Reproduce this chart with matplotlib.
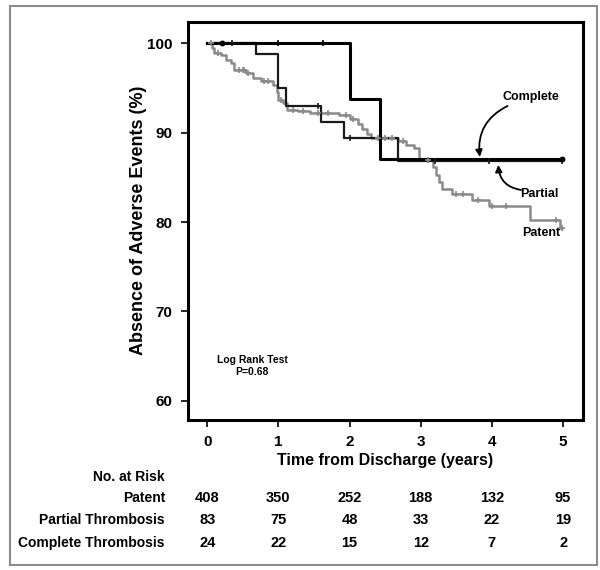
"""Kaplan-Meier style chart: absence of adverse events by thrombosis status"""
import numpy as np
import matplotlib
matplotlib.use("Agg")
import matplotlib.pyplot as plt
from matplotlib.patches import Rectangle
import matplotlib.transforms as mtransforms

plt.rcParams['font.family'] = ['Liberation Sans', 'DejaVu Sans']
plt.rcParams['font.weight'] = 'bold'

# step curves: time of each drop (years) and survival after it (%)
patent_times = [0, 0.07, 0.09, 0.2, 0.26, 0.33, 0.37, 0.54, 0.65, 0.75,
                0.93, 0.98, 1.0, 1.07, 1.12, 1.28, 1.45, 1.85, 2.0, 2.12,
                2.18, 2.25, 2.3, 2.68, 2.8, 2.9, 2.98, 3.17, 3.22, 3.26,
                3.3, 3.44, 3.72, 3.96, 4.54, 4.96]
patent_surv = [100, 99.5, 98.9, 98.7, 98.2, 97.8, 97.0, 96.7, 96.1, 95.8,
               95.4, 94.6, 93.7, 93.3, 92.6, 92.4, 92.2, 92.0, 91.5, 91.0,
               90.4, 89.9, 89.4, 89.1, 88.6, 88.3, 86.9, 86.2, 85.3, 84.5,
               83.7, 83.1, 82.5, 81.8, 80.2, 79.3]
patent_censor = [0.05, 0.15, 0.45, 0.5, 0.52, 0.58, 0.8, 0.85, 1.03, 1.2,
                 1.35, 1.55, 1.7, 1.95, 2.05, 2.4, 2.5, 2.6, 2.75, 3.1,
                 3.5, 3.6, 3.8, 4.0, 4.2, 4.9, 4.98]

partial_times = [0, 0.69, 0.99, 1.1, 1.6, 1.92, 2.68]
partial_surv = [100, 98.8, 95.0, 93.0, 91.2, 89.4, 86.8]
partial_censor = [0.35, 1.55, 2.0, 3.2, 3.96, 4.98]

complete_times = [0, 2.0, 2.43]
complete_surv = [100, 93.8, 87.1]
complete_dots = [0.21, 4.98]
complete_ticks = [1.0, 1.62]

end_time = 4.98

# numbers at risk
risk_times = [0, 1, 2, 3, 4, 5]
risk_patent = [408, 350, 252, 188, 132, 95]
risk_partial = [83, 75, 48, 33, 22, 19]
risk_complete = [24, 22, 15, 12, 7, 2]
risk_labels = ["Patent", "Partial Thrombosis", "Complete Thrombosis"]


def step_value(times, surv, t):
    idx = np.searchsorted(times, t, side='right') - 1
    return np.asarray(surv)[idx]


def draw_curve(ax, times, surv, color, lw):
    xs = list(times) + [end_time]
    ys = list(surv) + [surv[-1]]
    ax.step(xs, ys, where='post', color=color, lw=lw, zorder=3)


def draw_censor(ax, times, surv, censor, color, marker, ms):
    cy = [step_value(times, surv, c) for c in censor]
    ax.plot(censor, cy, linestyle='none', marker=marker, color=color,
            ms=ms, mew=1.2, zorder=4)


def curved_arrow(ax, tail, head, rad):
    ax.annotate("", xy=head, xytext=tail,
                arrowprops=dict(arrowstyle='-|>', color='black', lw=1.3,
                                mutation_scale=10, shrinkA=0, shrinkB=0,
                                connectionstyle=f"arc3,rad={rad}"))


def main():
    fig = plt.figure(figsize=(6, 5.7), dpi=100)
    ax = fig.add_axes([188 / 600, 1 - 419.5 / 570, (583 - 188) / 600, (419.5 - 22) / 570])

    draw_curve(ax, patent_times, patent_surv, '#8a8a8a', 1.8)
    draw_censor(ax, patent_times, patent_surv, patent_censor, '#8a8a8a', '+', 5)
    draw_curve(ax, partial_times, partial_surv, '#1a1a1a', 1.6)
    draw_censor(ax, partial_times, partial_surv, partial_censor, '#1a1a1a', '|', 5)
    draw_curve(ax, complete_times, complete_surv, 'black', 2.2)
    draw_censor(ax, complete_times, complete_surv, complete_dots, 'black', 'o', 3)
    draw_censor(ax, complete_times, complete_surv, complete_ticks, 'black', '|', 5)

    ax.set_xlim(-0.27, 5.28)
    ax.set_ylim(57.9, 102.4)
    ax.set_xticks(risk_times)
    ax.set_yticks([60, 70, 80, 90, 100])
    ax.tick_params(direction='out', length=5, width=1.2, labelsize=11, pad=6)
    for s in ax.spines.values():
        s.set_linewidth(2.2)

    ax.set_xlabel("Time from Discharge (years)", fontsize=11.5, fontweight='bold', labelpad=3)
    ax.set_ylabel("Absence of Adverse Events (%)", fontsize=13, fontweight='bold', labelpad=0)

    ax.text(0.63, 63.9, "Log Rank Test\nP=0.68", fontsize=7.5, fontweight='bold',
            ha='center', va='center', linespacing=1.15)

    ax.text(4.55, 94.0, "Complete", fontsize=9, fontweight='bold', ha='center', va='center')
    curved_arrow(ax, (4.22, 93.0), (3.83, 87.3), 0.35)
    ax.text(4.67, 83.1, "Partial", fontsize=9, fontweight='bold', ha='center', va='center')
    curved_arrow(ax, (4.41, 83.6), (4.09, 86.4), -0.4)
    ax.text(4.69, 78.8, "Patent", fontsize=9, fontweight='bold', ha='center', va='center')

    # numbers at risk table under the axes
    trans = mtransforms.blended_transform_factory(ax.transData, fig.transFigure)
    row_y = [1 - 497.7 / 570, 1 - 520 / 570, 1 - 542.7 / 570]
    fig.text(165 / 600, 1 - 476.7 / 570, "No. at Risk", fontsize=10,
             fontweight='bold', ha='right', va='center')
    for label, counts, y in zip(risk_labels, [risk_patent, risk_partial, risk_complete], row_y):
        fig.text(165 / 600, y, label, fontsize=10, fontweight='bold', ha='right', va='center')
        for t, n in zip(risk_times, counts):
            ax.text(t, y, str(n), transform=trans, fontsize=10.5, fontweight='bold',
                    ha='center', va='center')

    # gray frame around the whole picture
    fig.patches.append(Rectangle((9.5 / 600, 1 - 565 / 570), (597 - 9.5) / 600, (565 - 6) / 570,
                                 transform=fig.transFigure, fill=False,
                                 edgecolor='#8c8c8c', lw=1.5))

    fig.savefig("out.png", dpi=100)


if __name__ == "__main__":
    main()
